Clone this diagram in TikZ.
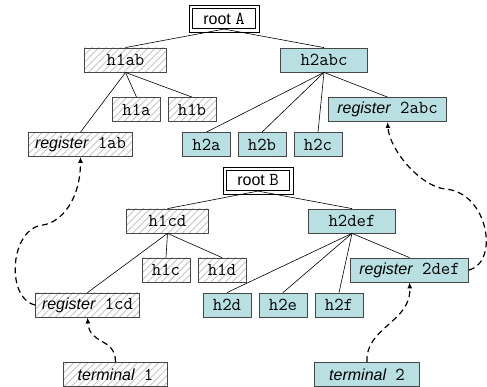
\documentclass[tikz,border=0pt]{standalone}
\usepackage{fontspec}
\setmainfont{Liberation Sans}
\setmonofont[Scale=1.14]{Latin Modern Mono}
\usetikzlibrary{arrows.meta,
                patterns.meta
            }
\definecolor{boxteal}{RGB}{184,224,226}
\definecolor{boxline}{RGB}{70,70,70}

\begin{document}
\begin{tikzpicture}[x=1pt, y=1pt,
        every node/.style={font=\fontsize{16}{19}\selectfont},
        box/.style={draw=boxline, line width=0.8pt, minimum height=24pt, inner sep=2pt},
        hatchbox/.style={box, pattern={Lines[angle=45, distance=5pt, line width=0.9pt]}, pattern color=gray!45},
        tealbox/.style={box, fill=boxteal},
        rootbox/.style={draw, line width=0.7pt, minimum height=20.5pt, minimum width=63.5pt, inner sep=2pt},
        rootframe/.style={line width=0.7pt},
        treeline/.style={line width=0.6pt},
        regarrow/.style={dash pattern=on 6pt off 4pt, line width=1.2pt, -{Latex[length=6pt, width=5pt]}}
    ]
            \useasboundingbox (0,0) rectangle (487,387);
            % first tree
            \node[rootbox] (rootA) at (224,368.5) {root \texttt{A}};
            \draw[rootframe] ([shift={(-3pt,-3pt)}]rootA.south west) rectangle ([shift={(3pt,3pt)}]rootA.north east);
            \node[hatchbox, minimum width=82pt] (h1ab) at (125.5,327) {\texttt{h1ab}};
            \node[tealbox, minimum width=87pt] (h2abc) at (324,327) {\texttt{h2abc}};
            \node[hatchbox, minimum width=48pt] (h1a) at (136.5,277.5) {\texttt{h1a}};
            \node[hatchbox, minimum width=48pt] (h1b) at (192,277.5) {\texttt{h1b}};
            \node[hatchbox, minimum width=104pt] (reg1ab) at (80.5,242.5) {\textit{register}\ \ \texttt{1ab}};
            \node[tealbox, minimum width=48pt] (h2a) at (206.5,242.5) {\texttt{h2a}};
            \node[tealbox, minimum width=48pt] (h2b) at (262,242.5) {\texttt{h2b}};
            \node[tealbox, minimum width=48pt] (h2c) at (318,242.5) {\texttt{h2c}};
            \node[tealbox, minimum width=118pt] (reg2abc) at (387.5,277.5) {\textit{register}\ \ \texttt{2abc}};
            \draw[treeline] (rootA.south) -- (h1ab.north);
            \draw[treeline] (rootA.south) -- (h2abc.north);
            \draw[treeline] (h1ab.south) -- (h1a.north);
            \draw[treeline] (h1ab.south) -- (h1b.north);
            \draw[treeline] (h1ab.south) -- (reg1ab.north);
            \draw[treeline] (h2abc.south) -- (h2a.north);
            \draw[treeline] (h2abc.south) -- (h2b.north);
            \draw[treeline] (h2abc.south) -- (h2c.north);
            \draw[treeline] (h2abc.south) -- (reg2abc.north);
            % second tree
            \node[rootbox] (rootB) at (258,206.5) {root \texttt{B}};
            \draw[rootframe] ([shift={(-3pt,-3pt)}]rootB.south west) rectangle ([shift={(3pt,3pt)}]rootB.north east);
            \node[hatchbox, minimum width=82pt] (h1cd) at (167.5,166) {\texttt{h1cd}};
            \node[tealbox, minimum width=87pt] (h2def) at (352,166) {\texttt{h2def}};
            \node[hatchbox, minimum width=48pt] (h1c) at (166,117) {\texttt{h1c}};
            \node[hatchbox, minimum width=48pt] (h1d) at (222,117) {\texttt{h1d}};
            \node[hatchbox, minimum width=104pt] (reg1cd) at (87.5,82) {\textit{register}\ \ \texttt{1cd}};
            \node[tealbox, minimum width=48pt] (h2d) at (227,82) {\texttt{h2d}};
            \node[tealbox, minimum width=48pt] (h2e) at (283,82) {\texttt{h2e}};
            \node[tealbox, minimum width=48pt] (h2f) at (339,82) {\texttt{h2f}};
            \node[tealbox, minimum width=118pt] (reg2def) at (409.5,117) {\textit{register}\ \ \texttt{2def}};
            \draw[treeline] (rootB.south) -- (h1cd.north);
            \draw[treeline] (rootB.south) -- (h2def.north);
            \draw[treeline] (h1cd.south) -- (h1c.north);
            \draw[treeline] (h1cd.south) -- (h1d.north);
            \draw[treeline] (h1cd.south) -- (reg1cd.north);
            \draw[treeline] (h2def.south) -- (h2d.north);
            \draw[treeline] (h2def.south) -- (h2e.north);
            \draw[treeline] (h2def.south) -- (h2f.north);
            \draw[treeline] (h2def.south) -- (reg2def.north);
            % terminals
            \node[hatchbox, minimum width=104pt] (term1) at (115.5,12.5) {\textit{terminal}\ \ \texttt{1}};
            \node[tealbox, minimum width=105pt] (term2) at (367,12.5) {\textit{terminal}\ \ \texttt{2}};
            % register links
            \coordinate (bendL) at (43,162);
            \coordinate (bendR) at (445,198);
            \draw[regarrow] (term1.north) .. controls +(0,25) and +(2,-28) .. (reg1cd.south);
            \draw[regarrow] (reg1cd.west) .. controls +(-30,7) and +(-33,-3) .. (bendL)
                .. controls +(19,3) and +(0,-42) .. (reg1ab.south);
            \draw[regarrow] (term2.north) .. controls +(-2,35) and +(2,-40) .. (reg2def.south);
            \draw[regarrow] (reg2def.east) .. controls +(31,8) and +(43,-3) .. (bendR)
                .. controls +(-25,3) and +(2,-28) .. (reg2abc.south);
        \end{tikzpicture}
\end{document}
